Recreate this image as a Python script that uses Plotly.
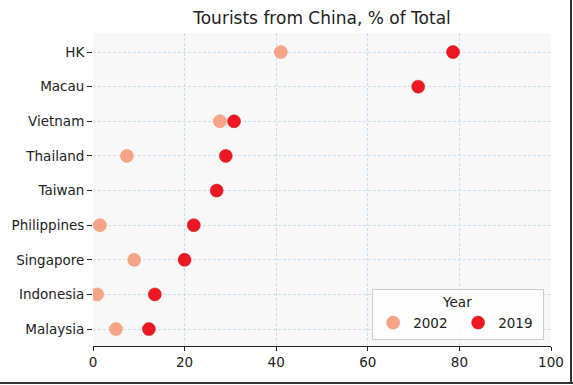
import plotly.graph_objects as go

countries = ["Malaysia", "Indonesia", "Singapore", "Philippines", "Taiwan",
             "Thailand", "Vietnam", "Macau", "HK"]
pct_2002 = [5, 0.9, 9, 1.5, None, 7.4, 27.7, None, 41]
pct_2019 = [12.2, 13.5, 20, 22, 27, 29, 30.8, 71, 78.6]
x_ticks = [0, 20, 40, 60, 80, 100]

W, H = 573, 385
L, R, T, B = 93, 22, 33, 39

fig = go.Figure()
fig.add_trace(go.Scatter(
    x=pct_2002, y=countries, mode="markers", name="2002",
    marker=dict(size=13, color="rgba(244,160,128,0.95)",
                line=dict(width=0.5, color="rgba(240,140,110,1)")),
))
fig.add_trace(go.Scatter(
    x=pct_2019, y=countries, mode="markers", name="2019",
    marker=dict(size=13, color="#ee1822",
                line=dict(width=0.5, color="#d01018")),
))

fig.update_layout(
    width=W, height=H,
    margin=dict(l=L, r=R, t=T, b=B, autoexpand=False),
    paper_bgcolor="white",
    plot_bgcolor="#f8f8f8",
    font=dict(family="DejaVu Sans", size=13.5, color="#222"),
    title=dict(text="Tourists from China, % of Total", x=0.5, xref="paper",
               xanchor="center", y=1 - 18 / H, yanchor="middle",
               font=dict(size=17, color="#222")),
    xaxis=dict(range=[0, 100], tickvals=x_ticks, showgrid=True,
               gridcolor="#c9def2", griddash="3px,2px", gridwidth=1,
               zeroline=False, showline=True, linecolor="#222", linewidth=1.2,
               ticks="outside", ticklen=4, tickcolor="#222",
               tickfont=dict(size=13.5)),
    yaxis=dict(categoryorder="array", categoryarray=countries,
               range=[-0.49, 8.55], showgrid=True, gridcolor="#c9def2",
               griddash="3px,2px", gridwidth=1, zeroline=False, showline=False,
               ticks="outside", ticklen=5, tickcolor="#222",
               tickfont=dict(size=13.5)),
    legend=dict(title=dict(text="Year", side="top center", font=dict(size=13.5)),
                orientation="h", x=0.985, xanchor="right", y=0.02,
                yanchor="bottom", bgcolor="rgba(255,255,255,0.85)",
                bordercolor="#cccccc", borderwidth=1,
                entrywidth=40, entrywidthmode="pixels",
                itemwidth=30, font=dict(size=13.5)),
    showlegend=True,
)

# image frame on right and bottom edges
fig.add_shape(type="line", xref="paper", yref="paper",
              x0=(W - 2 - L) / (W - L - R), x1=(W - 2 - L) / (W - L - R),
              y0=-(B - 1) / (H - T - B), y1=1 + T / (H - T - B),
              line=dict(color="#333", width=2))
fig.add_shape(type="line", xref="paper", yref="paper",
              x0=-L / (W - L - R), x1=(W - L) / (W - L - R),
              y0=-(B - 2) / (H - T - B), y1=-(B - 2) / (H - T - B),
              line=dict(color="#333", width=2))

fig.write_html("out.html", config={"displayModeBar": False},
               post_script="document.body.style.margin='0';document.body.style.overflow='hidden';")
